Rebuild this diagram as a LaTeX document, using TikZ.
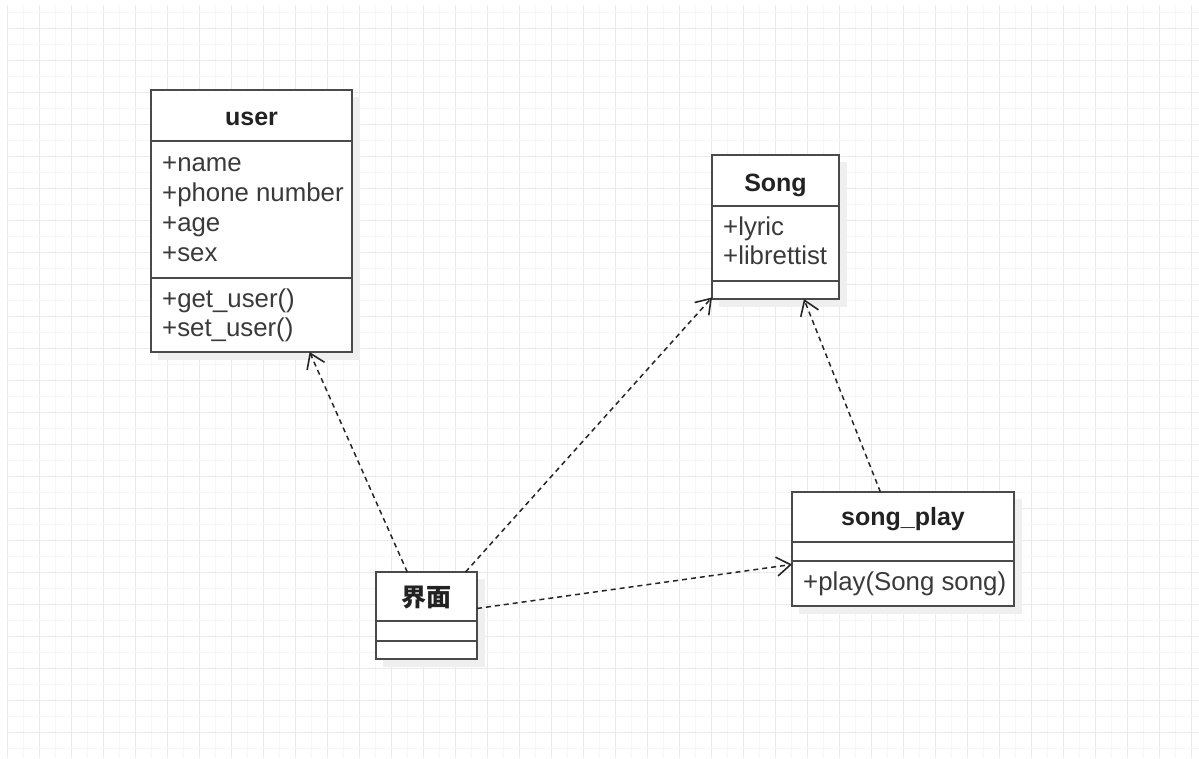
\documentclass[tikz,border=0pt]{standalone}
\usepackage{fontspec}
\setmainfont{Liberation Sans}
\newfontfamily\cjk{Noto Sans CJK SC}
\usetikzlibrary{arrows.meta}

\definecolor{gridmajor}{HTML}{EAEAEA}
\definecolor{gridminor}{HTML}{F6F6F6}
\definecolor{boxline}{HTML}{4A4A4A}
\definecolor{ink}{HTML}{3A3A3A}
\definecolor{titleink}{HTML}{222222}
\definecolor{dropshade}{HTML}{EFEFEF}

\tikzset{
  cls/.style={draw=boxline, line width=2pt, fill=white, rectangle,
    inner sep=0pt, outer sep=0pt},
  sep/.style={draw=boxline, line width=2pt},
  clstitle/.style={font=\fontsize{25}{30}\selectfont\bfseries, text=titleink,
    anchor=base, inner sep=0pt},
  member/.style={font=\fontsize{25.8}{30}\selectfont, text=ink,
    anchor=base west, inner sep=0pt},
  dep/.style={draw=black!85, line width=1.5pt, dash pattern=on 5pt off 4pt,
    -{Straight Barb[length=14pt,width=19pt,line width=1.6pt]}},
}

\begin{document}
\begin{tikzpicture}[x=1pt, y=-1pt]
  \useasboundingbox (0,0) rectangle (1199,758);
  \fill[white] (0,0) rectangle (1199,758);

  % background grid
  \foreach \i in {0,...,74} {
    \pgfmathtruncatemacro{\gx}{7+16*\i}
    \pgfmathtruncatemacro{\odd}{mod(\i,2)}
    \ifnum\odd=0
      \draw[gridmajor, line width=1pt] (\gx,5) -- (\gx,758);
    \else
      \draw[gridminor, line width=1pt] (\gx,5) -- (\gx,758);
    \fi
  }
  \foreach \j in {0,...,46} {
    \pgfmathtruncatemacro{\gy}{12+16*\j}
    \pgfmathtruncatemacro{\odd}{mod(\j,2)}
    \ifnum\odd=1
      \draw[gridmajor, line width=1pt] (7,\gy) -- (1199,\gy);
    \else
      \draw[gridminor, line width=1pt] (7,\gy) -- (1199,\gy);
    \fi
  }

  % drop shadows
  \fill[dropshade] (158,97) rectangle (360,360);
  \fill[dropshade] (719,162) rectangle (847,307);
  \fill[dropshade] (383,579) rectangle (485,667);
  \fill[dropshade] (799,499) rectangle (1022,614);

  % class: user
  \node[cls, minimum width=201pt, minimum height=262pt] (user) at (251.5,221) {};
  \draw[sep] (user.west |- 0,141) -- (user.east |- 0,141);
  \draw[sep] (user.west |- 0,278) -- (user.east |- 0,278);
  \node[clstitle] (userT) at (251.5,125) {user};
  \node[member] (u1) at (162,171) {+name};
  \node[member] (u2) at (162,201) {+phone number};
  \node[member] (u3) at (162,231) {+age};
  \node[member] (u4) at (162,261) {+sex};
  \node[member] (u5) at (162,307) {+get\_user()};
  \node[member] (u6) at (162,336) {+set\_user()};

  % class: Song
  \node[cls, minimum width=127pt, minimum height=144pt] (song) at (775.5,227) {};
  \draw[sep] (song.west |- 0,206) -- (song.east |- 0,206);
  \draw[sep] (song.west |- 0,281) -- (song.east |- 0,281);
  \node[clstitle] (songT) at (775.5,191) {Song};
  \node[member] (s1) at (723,235) {+lyric};
  \node[member] (s2) at (723,264) {+librettist};

  % class: 界面
  \node[cls, minimum width=101pt, minimum height=87pt] (ui) at (426.5,615.5) {};
  \draw[sep] (ui.west |- 0,621) -- (ui.east |- 0,621);
  \draw[sep] (ui.west |- 0,641) -- (ui.east |- 0,641);
  \node[font=\cjk\fontsize{25}{30}\selectfont\bfseries, text=titleink,
    inner sep=0pt, anchor=base] (uiT) at (426.5,606) {界面};

  % class: song_play
  \node[cls, minimum width=222pt, minimum height=114pt] (play) at (903,549) {};
  \draw[sep] (play.west |- 0,542) -- (play.east |- 0,542);
  \draw[sep] (play.west |- 0,561) -- (play.east |- 0,561);
  \node[clstitle] (playT) at (903,525) {song\_play};
  \node[member] (p1) at (803,590) {+play(Song song)};

  % dependencies
  \draw[dep] (ui) -- (user);
  \draw[dep] (ui) -- (song);
  \draw[dep] (play) -- (song);
  \draw[dep] (ui) -- (play);
\end{tikzpicture}
\end{document}
